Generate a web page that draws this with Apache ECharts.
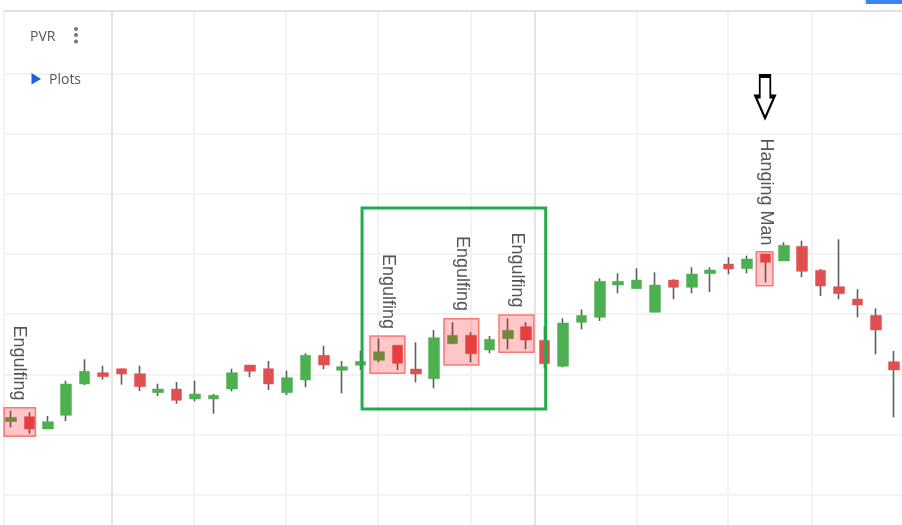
<!DOCTYPE html>
<html><head><meta charset="utf-8">
<style>html,body{margin:0;padding:0;background:#fff}#c{width:902px;height:525px}</style>
<script src="https://cdn.jsdelivr.net/npm/echarts@6/dist/echarts.min.js"></script>
</head><body><div id="c"></div>
<script>
const categories = Array.from({length:49},(_,i)=>'D'+(i+1));
const opens = [1337.3,1342.3,1330,1343.7,1375,1386.3,1390.3,1385.3,1366.3,1370,1360,1360,1370,1394,1390.3,1366.3,1379,1403.7,1388.7,1393.7,1398.7,1413.7,1390,1380.3,1415.3,1423.7,1409,1420.3,1432.3,1418.7,1392.7,1436.7,1441.7,1474,1470.3,1446.7,1479,1471.7,1485.3,1495,1490.3,1505,1498,1512.7,1488.7,1472.3,1460,1443.7,1397.3];
const closes = [1341.7,1330,1337.3,1375,1387.7,1382.3,1385,1372.3,1370,1358.7,1365,1363.7,1386.3,1387.7,1375,1381.3,1403.7,1394,1392.3,1397.7,1407.3,1395.7,1385,1421.3,1423.7,1405.3,1419.7,1428.7,1419,1395.3,1436,1443.5,1477.7,1477.7,1479,1474,1471.7,1485,1489,1490,1500,1496.7,1513.7,1487.7,1473,1465.3,1454,1429,1389];
const lows = [1331.7,1325.3,1330,1338,1374,1379.3,1374.3,1368,1363,1355.3,1357.7,1345.3,1367.7,1381.7,1369,1364,1371.7,1389.7,1365.7,1389,1396.7,1389,1376.7,1370.7,1415.3,1396.7,1405.7,1409.7,1409.7,1390.7,1391.7,1429.7,1438,1465.7,1470.3,1446.7,1459.7,1465.7,1467,1484.7,1485.7,1476.7,1498,1482,1463,1459.7,1441.7,1404.7,1341.7];
const highs = [1348.3,1346.7,1343,1378.3,1399.7,1393.3,1390.3,1393.3,1375.3,1377,1378.3,1365,1390.3,1394,1398,1388.3,1405.7,1413.3,1398,1408.3,1420.7,1413.7,1416.7,1429,1436.7,1426.7,1423,1440.7,1436.7,1432.7,1440.7,1449.5,1480.7,1485.7,1490.7,1486.7,1479.7,1491.7,1491.7,1501.7,1503.3,1505,1516.7,1518.3,1490,1519.7,1469.7,1450.7,1408];
const priceLines = [1264.2,1324.4,1384.6,1444.8,1505,1565.2,1625.4,1685.6];
const softVerticals = [-0.41,9.95,14.95,19.95,25,34.02,38.97,43.53];
const strongVerticals = [5.49,28.48];
const patternBoxes = [[-0.38,1351.3,1.33,1322.7],[19.51,1423,21.41,1385.7],[23.53,1440.3,25.42,1394],[26.52,1444,28.42,1406.7],[40.5,1507.3,41.41,1473.3]];
const focusBox = [19.08,1551,29.06,1350];
const patternLabels = [['Engulfing',0.43,1396],['Engulfing',20.49,1467.5],['Engulfing',24.51,1485.5],['Engulfing',27.5,1489],['Hanging Man',41.03,1567]];
const arrowAt = [40.98,1662];

const xMin=-0.5, xMax=48.5, yMin=1204, yMax=1749, frameTop=1749;
const wickData = categories.map((_,i)=>[opens[i],closes[i],lows[i],highs[i]]);
const bodyData = categories.map((_,i)=>[opens[i],closes[i],Math.min(opens[i],closes[i]),Math.max(opens[i],closes[i])]);
const vline=(x,color)=>[{coord:[x,yMin],lineStyle:{color,width:2,type:'solid'}},{coord:[x,yMax]}];
const hline=(y,color)=>[{coord:[-0.38,y],lineStyle:{color,width:2,type:'solid'}},{coord:[xMax,y]}];

const chart = echarts.init(document.getElementById('c'),null,{renderer:'canvas'});
chart.setOption({
  animation:false,
  backgroundColor:'#fff',
  grid:{left:1.8,top:10,width:901.6,height:545,containLabel:false,outerBoundsMode:'none'},
  xAxis:[
    {type:'category',data:categories,show:false,boundaryGap:true},
    {type:'value',min:xMin,max:xMax,show:false,splitLine:{show:false}}
  ],
  yAxis:{type:'value',min:yMin,max:yMax,show:false,splitLine:{show:false}},
  series:[
    {type:'line',xAxisIndex:1,data:[],z:1,silent:true,
     markLine:{z:1,symbol:'none',silent:true,label:{show:false},animation:false,data:[
       ...priceLines.map(y=>hline(y,'#f3f3f3')),
       ...softVerticals.map(x=>vline(x,'#f3f3f3')),
       ...strongVerticals.map(x=>vline(x,'#e4e4e4')),
       [{coord:[-0.38,frameTop-0.6],lineStyle:{color:'#e2e2e2',width:2,type:'solid'}},{coord:[xMax,frameTop-0.6]}]
     ]}},
    {type:'candlestick',xAxisIndex:0,data:wickData,barWidth:1,z:2,silent:true,
     itemStyle:{color:'#5a6060',color0:'#5a6060',borderColor:'#5a6060',borderColor0:'#5a6060',borderWidth:1.6}},
    {type:'candlestick',xAxisIndex:0,data:bodyData,barWidth:11,z:3,silent:true,
     itemStyle:{color:'#4caf50',color0:'#e05050',borderColor:'rgba(76,175,80,0.45)',borderColor0:'rgba(224,80,80,0.45)',borderWidth:1}},
    {type:'line',xAxisIndex:1,data:[],z:5,silent:true,
     markArea:{z:5,silent:true,label:{show:false},
       itemStyle:{color:'rgba(255,0,0,0.22)',borderColor:'rgba(255,90,90,0.8)',borderWidth:1.5},
       data:patternBoxes.map(b=>[{coord:[b[0],b[1]]},{coord:[b[2],b[3]]}])}},
    {type:'line',xAxisIndex:1,data:[],z:6,silent:true,
     markArea:{z:6,silent:true,label:{show:false},
       itemStyle:{color:'rgba(0,0,0,0)',borderColor:'#1fad4b',borderWidth:3},
       data:[[{coord:[focusBox[0],focusBox[1]]},{coord:[focusBox[2],focusBox[3]]}]]}},
    {type:'line',xAxisIndex:1,data:[],z:7,silent:true,
     markPoint:{z:7,silent:true,animation:false,data:[
       ...patternLabels.map(l=>({coord:[l[1],l[2]],symbol:'circle',symbolSize:1,itemStyle:{color:'rgba(0,0,0,0)'},
         label:{show:true,position:'inside',formatter:l[0],rotate:-90,fontFamily:'Liberation Sans',fontSize:18,color:'#555'}})),
       {coord:arrowAt,symbol:'path://M4 0H14V21H18L9 43L0 21H4Z',symbolSize:[19,42],
        itemStyle:{color:'#fff',borderColor:'#000',borderWidth:2.6},label:{show:false}}
     ]}}
  ],
  graphic:[
    {type:'text',z:100,left:30,top:30,style:{text:'PVR',font:'14px "Open Sans"',fill:'#555'}},
    {type:'circle',z:100,shape:{cx:76,cy:29,r:2},style:{fill:'#777'}},
    {type:'circle',z:100,shape:{cx:76,cy:35,r:2},style:{fill:'#777'}},
    {type:'circle',z:100,shape:{cx:76,cy:41.5,r:2},style:{fill:'#777'}},
    {type:'polygon',z:100,shape:{points:[[31.5,73],[41,79],[31.5,84.5]]},style:{fill:'#1a63d8'}},
    {type:'text',z:100,left:49,top:73,style:{text:'Plots',font:'14px "Open Sans"',fill:'#555'}},
    {type:'rect',z:100,shape:{x:866,y:0,width:36,height:4},style:{fill:'#3b82f6'}},
    {type:'rect',z:100,shape:{x:864.5,y:0,width:1.5,height:4},style:{fill:'#dddddd'}}
  ]
});
</script></body></html>
